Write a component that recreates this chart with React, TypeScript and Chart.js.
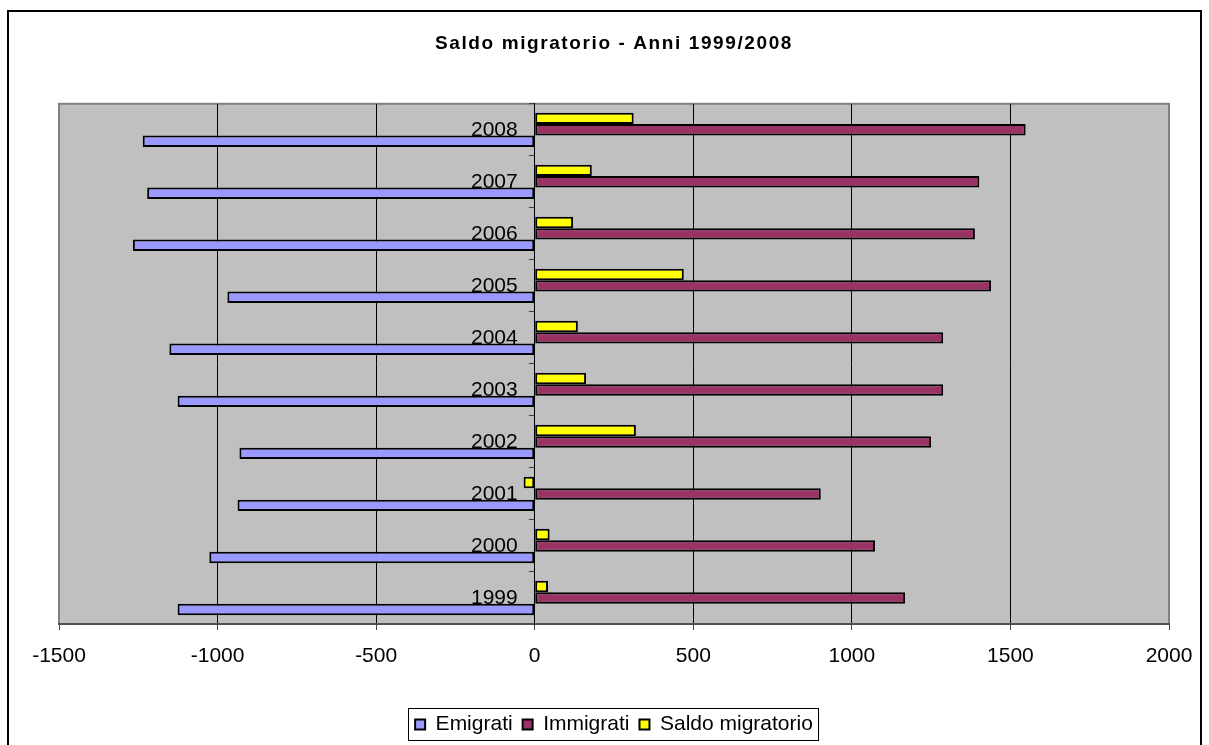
import React, { useEffect, useRef } from 'react';
import { Chart, registerables } from 'chart.js';

Chart.register(...registerables);

const TITLE = 'Saldo migratorio - Anni 1999/2008';
const years = ['1999', '2000', '2001', '2002', '2003', '2004', '2005', '2006', '2007', '2008'];
const emigrati = [-1126, -1026, -937, -931, -1126, -1152, -969, -1267, -1222, -1236];
const immigrati = [1168, 1073, 902, 1250, 1288, 1288, 1439, 1388, 1402, 1548];
const saldo = [42, 47, -35, 319, 162, 136, 470, 121, 180, 312];
const xMin = -1500;
const xMax = 2000;
const xStep = 500;
const seriesNames = ['Emigrati', 'Immigrati', 'Saldo migratorio'];
const seriesColors = ['#9999FF', '#993366', '#FFFF00'];

const FONT = "'Liberation Sans', Arial, sans-serif";

const framePlugin = {
  id: 'frame',
  beforeDraw(chart: any) {
    const { ctx, chartArea: a } = chart;
    ctx.save();
    ctx.fillStyle = '#ffffff';
    ctx.fillRect(0, 0, chart.width, chart.height);
    ctx.strokeStyle = '#000000';
    ctx.lineWidth = 2;
    ctx.strokeRect(8, 11, 1193, 800);
    ctx.fillStyle = '#C0C0C0';
    ctx.fillRect(a.left, a.top, a.right - a.left, a.bottom - a.top);
    ctx.strokeStyle = '#808080';
    ctx.lineWidth = 2;
    ctx.strokeRect(a.left, a.top, a.right - a.left, a.bottom - a.top);
    ctx.restore();
    // shift category labels left of the zero axis
    const ys = chart.scales.y;
    if (ys) {
      const items = ys.getLabelItems(chart.chartArea);
      items.forEach((it: any) => {
        if (!it.__shifted) {
          it.__shifted = true;
          it.options.translation[0] -= 17;
        }
      });
    }
    const tb = chart.titleBlock;
    if (tb && !tb.__patched) {
      tb.__patched = true;
      const orig = tb.draw.bind(tb);
      tb.draw = (...args: any[]) => {
        const c: any = chart.ctx;
        const prev = c.letterSpacing;
        c.letterSpacing = '1.6px';
        orig(...args);
        c.letterSpacing = prev || '0px';
      };
    }
  },
  afterDraw(chart: any) {
    const lg = chart.legend;
    if (!lg || !lg.legendHitBoxes || !lg.legendHitBoxes.length) return;
    const hb = lg.legendHitBoxes;
    const left = Math.min(...hb.map((h: any) => h.left));
    const right = Math.max(...hb.map((h: any) => h.left + h.width));
    const top = hb[0].top;
    const h = hb[0].height;
    const { ctx } = chart;
    ctx.save();
    ctx.strokeStyle = '#000000';
    ctx.lineWidth = 1;
    ctx.strokeRect(Math.round(left - 7) + 0.5, Math.round(top - 6) + 0.5, Math.round(right - left + 12), Math.round(h + 11));
    ctx.restore();
  },
};

const barStyle = {
  borderColor: '#000000',
  borderWidth: 2,
  borderSkipped: false as const,
  categoryPercentage: 0.66,
  barPercentage: 1,
};

export default function App() {
  const ref = useRef<HTMLCanvasElement | null>(null);

  useEffect(() => {
    if (!ref.current) return;
    const labels = [...years].reverse();
    const rev = (arr: number[]) => [...arr].reverse();
    const chart = new Chart(ref.current, {
      type: 'bar',
      data: {
        labels,
        datasets: [
          { label: seriesNames[2], data: rev(saldo), backgroundColor: seriesColors[2], ...barStyle },
          { label: seriesNames[1], data: rev(immigrati), backgroundColor: seriesColors[1], ...barStyle },
          { label: seriesNames[0], data: rev(emigrati), backgroundColor: seriesColors[0], ...barStyle },
        ],
      },
      options: {
        indexAxis: 'y',
        responsive: false,
        animation: false,
        devicePixelRatio: 1,
        layout: { padding: { left: 59, right: 40, top: 0, bottom: 0 } },
        scales: {
          x: {
            type: 'linear',
            min: xMin,
            max: xMax,
            ticks: {
              stepSize: xStep,
              color: '#000000',
              font: { family: FONT, size: 21 },
              padding: 14,
              callback: (v: any) => String(v),
            },
            grid: {
              color: (c: any) => (c.tick && (c.tick.value === xMin || c.tick.value === xMax) ? '#808080' : '#000000'),
              tickColor: '#404040',
              tickLength: 6,
              lineWidth: 1,
            },
            border: { display: true, color: '#505050', width: 2 },
            afterFit: (scale: any) => {
              scale.height = 80;
            },
          },
          y: {
            type: 'category',
            position: { x: 0 } as any,
            offset: true,
            ticks: {
              color: '#000000',
              font: { family: FONT, size: 21 },
              padding: 12,
              z: 1,
            },
            grid: {
              drawOnChartArea: false,
              drawTicks: true,
              tickLength: 5,
              tickColor: '#404040',
              offset: true,
            },
            border: { display: true, color: '#000000', width: 1 },
          },
        },
        plugins: {
          title: {
            display: true,
            text: TITLE,
            color: '#000000',
            font: { family: FONT, size: 19, weight: 'bold' },
            padding: { top: 32, bottom: 49 },
          },
          legend: {
            display: true,
            position: 'bottom',
            reverse: true,
            labels: {
              color: '#000000',
              font: { family: FONT, size: 21 },
              boxWidth: 10,
              boxHeight: 10,
              padding: 10,
            },
          },
          tooltip: { enabled: false },
        },
      },
      plugins: [framePlugin],
    });
    return () => chart.destroy();
  }, []);

  return (
    <div style={{ position: 'absolute', left: 0, top: 0, width: 1209, height: 745 }}>
      <canvas ref={ref} width={1209} height={745} style={{ display: 'block' }} />
    </div>
  );
}
